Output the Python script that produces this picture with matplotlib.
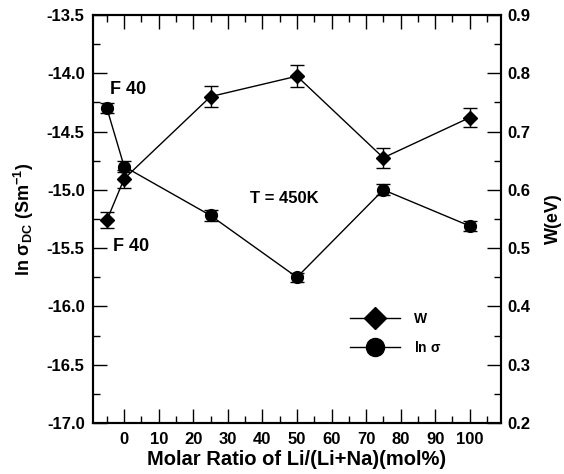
import matplotlib
matplotlib.use("Agg")
import matplotlib.pyplot as plt
from matplotlib.lines import Line2D
from matplotlib.ticker import MultipleLocator, FormatStrFormatter

plt.rcParams['font.family'] = ['Liberation Sans', 'DejaVu Sans']
plt.rcParams['font.weight'] = 'bold'
plt.rcParams['mathtext.fontset'] = 'custom'
plt.rcParams['mathtext.rm'] = 'Liberation Sans:bold'
plt.rcParams['mathtext.it'] = 'Liberation Sans:bold'

x = [-5, 0, 25, 50, 75, 100]
ln_sigma = [-14.30, -14.80, -15.22, -15.75, -15.00, -15.31]
ln_sigma_err = [0.045, 0.047, 0.047, 0.04, 0.047, 0.047]
W = [0.548, 0.619, 0.760, 0.795, 0.655, 0.724]
W_err = [0.014, 0.015, 0.018, 0.019, 0.017, 0.017]
xticks = [0, 10, 20, 30, 40, 50, 60, 70, 80, 90, 100]

fig = plt.figure(figsize=(5.64, 4.74), dpi=100)
ax = fig.add_axes([0.165, 0.1076, 0.723, 0.8608])
ax2 = ax.twinx()

ax.errorbar(x, ln_sigma, yerr=ln_sigma_err, color='black', lw=1.0, marker='o',
            ms=8.5, capsize=5, elinewidth=1.0, capthick=1.0)
ax2.errorbar(x, W, yerr=W_err, color='black', lw=1.0, marker='D',
             ms=7, capsize=5, elinewidth=1.0, capthick=1.0)

ax.set_xlim(-9, 109)
ax.set_ylim(-17.0, -13.5)
ax2.set_ylim(0.2, 0.9)

ax.set_xticks(xticks)
ax.xaxis.set_minor_locator(MultipleLocator(5))
ax.yaxis.set_major_locator(MultipleLocator(0.5))
ax.yaxis.set_minor_locator(MultipleLocator(0.25))
ax2.yaxis.set_major_locator(MultipleLocator(0.1))
ax2.yaxis.set_minor_locator(MultipleLocator(0.05))

ax.tick_params(axis='x', which='both', direction='in', top=True, bottom=True)
ax.tick_params(axis='x', which='major', length=10, width=1, pad=6.5, labelsize=12)
ax.tick_params(axis='x', which='minor', length=5, width=1)
ax.tick_params(axis='y', which='major', direction='in', length=10, width=1, pad=6, labelsize=12)
ax.tick_params(axis='y', which='minor', direction='in', length=5, width=1)
ax2.tick_params(axis='y', which='major', direction='in', length=10, width=1, pad=5, labelsize=12)
ax2.tick_params(axis='y', which='minor', direction='in', length=5, width=1)

ax.yaxis.set_major_formatter(FormatStrFormatter('%.1f'))
ax2.yaxis.set_major_formatter(FormatStrFormatter('%.1f'))

for a in (ax, ax2):
    for s in a.spines.values():
        s.set_linewidth(1.5)

ax.set_xlabel('Molar Ratio of Li/(Li+Na)(mol%)', fontsize=14.5, fontweight='bold', labelpad=2)
ax.set_ylabel(r'ln $\sigma_{DC}$ (Sm$^{-1}$)', fontsize=13, fontweight='bold', labelpad=8)
ax2.set_ylabel('W(eV)', fontsize=13, fontweight='bold', labelpad=10)

ax.text(-4.0, -14.14, 'F 40', fontsize=13, fontweight='bold', va='center', ha='left')
ax.text(-3.2, -15.49, 'F 40', fontsize=13, fontweight='bold', va='center', ha='left')
ax.text(36.3, -15.07, 'T = 450K', fontsize=12, fontweight='bold', va='center', ha='left')

h1 = Line2D([], [], color='black', lw=1.0, marker='D', ms=11)
h2 = Line2D([], [], color='black', lw=1.0, marker='o', ms=13)
ax.legend([h1, h2], ['W', r'ln $\sigma$'], loc='upper left', bbox_to_anchor=(0.6, 0.303),
          frameon=False, handlelength=3.6, fontsize=10, labelspacing=1.0, handletextpad=1.0)

fig.savefig('out.png', dpi=100)
